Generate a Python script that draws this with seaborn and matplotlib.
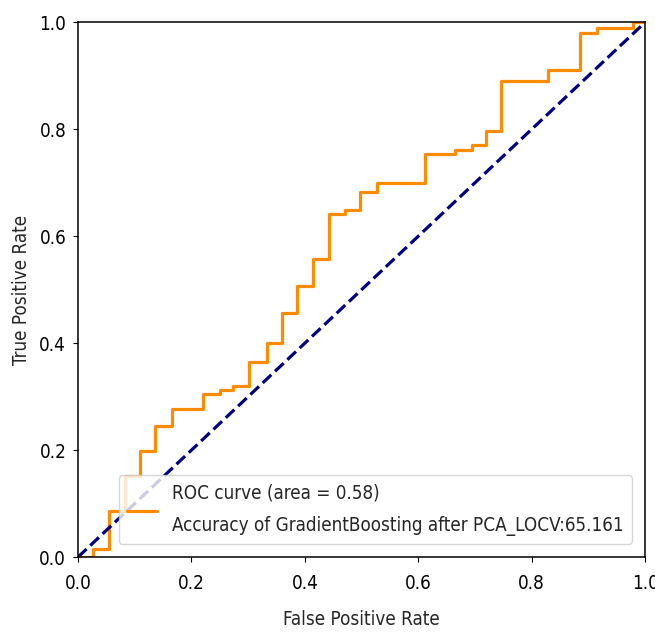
import numpy as np
import pandas as pd
import matplotlib
matplotlib.use("Agg")
import matplotlib.pyplot as plt
import seaborn as sns

# ROC step points (fpr where tpr jumps, tpr after the jump)
fpr = [0.0, 0.027, 0.055, 0.083, 0.109, 0.136, 0.165, 0.220, 0.250, 0.274,
       0.302, 0.333, 0.359, 0.387, 0.415, 0.443, 0.471, 0.497, 0.527, 0.611,
       0.665, 0.694, 0.720, 0.746, 0.829, 0.885, 0.915, 0.979, 1.0]
tpr = [0.0, 0.016, 0.086, 0.151, 0.198, 0.245, 0.277, 0.305, 0.313, 0.320,
       0.365, 0.400, 0.456, 0.506, 0.558, 0.641, 0.649, 0.683, 0.699, 0.753,
       0.762, 0.770, 0.797, 0.891, 0.911, 0.980, 0.989, 1.0, 1.0]
chance = [0.0, 1.0]
roc_auc = 0.58
accuracy = "65.161"

sns.set_style("ticks")
# narrow glyphs like the reference
plt.rcParams['font.family'] = ['DejaVu Sans Condensed', 'DejaVu Sans']
plt.rcParams['font.stretch'] = 'condensed'
plt.rcParams['axes.edgecolor'] = 'black'
plt.rcParams['axes.linewidth'] = 1.1
plt.rcParams['xtick.color'] = 'black'
plt.rcParams['ytick.color'] = 'black'

df = pd.DataFrame({'fpr': fpr, 'tpr': tpr})

fig = plt.figure(figsize=(6.55, 6.36), dpi=100)
ax = fig.add_axes([0.119, 0.124, 0.866, 0.841])

label = 'ROC curve (area = %0.2f)\nAccuracy of GradientBoosting after PCA_LOCV:%s' % (roc_auc, accuracy)
sns.lineplot(data=df, x='fpr', y='tpr', sort=False, estimator=None,
             drawstyle='steps-post', color='darkorange', lw=2.3, label=label, ax=ax)
sns.lineplot(x=chance, y=chance, color='navy', lw=2.3, linestyle='--', ax=ax)

ax.set_xlim(0.0, 1.0)
ax.set_ylim(0.0, 1.0)
ax.set_xticks(np.arange(0, 1.01, 0.2))
ax.set_yticks(np.arange(0, 1.01, 0.2))
ax.set_xlabel('False Positive Rate', fontsize=13.5, labelpad=12)
ax.set_ylabel('True Positive Rate', fontsize=13.5, labelpad=6)
ax.tick_params(axis='x', labelsize=13.5, pad=9)
ax.tick_params(axis='y', labelsize=13.5, pad=5)

leg = ax.legend(loc='lower right', fontsize=13.5, handlelength=1.6,
                borderpad=0.45, borderaxespad=0.7)
for t in leg.get_texts():
    t.set_linespacing(1.85)

fig.savefig('out.png', dpi=100)
